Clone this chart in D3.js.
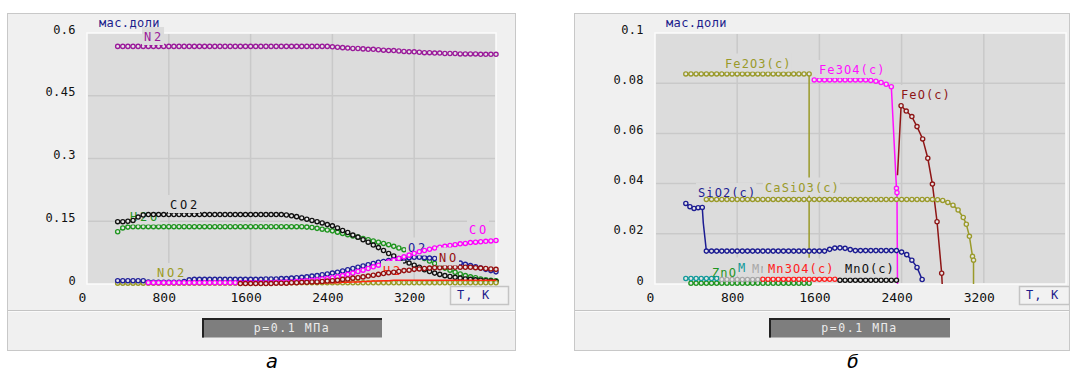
<!DOCTYPE html>
<html>
<head>
<meta charset="utf-8">
<script src="https://cdn.jsdelivr.net/npm/d3@7"></script>
<style>
  body { margin: 0; background: #fff; }
  svg text { font-family: "DejaVu Sans Mono", monospace; }
</style>
</head>
<body>
<svg id="fig" width="1070" height="376"></svg>
<script>
// ---- panel a: gas phase, mass fractions vs T ----
const T_A = [300,350,400,450,500,550,600,650,700,750, 800,850,900,950,1000,1050,1100,1150,1200,1250,
  1300,1350,1400,1450,1500,1550,1600,1650,1700,1750, 1800,1850,1900,1950,2000,2050,2100,2150,2200,2250,
  2300,2350,2400,2450,2500,2550,2600,2650,2700,2750, 2800,2850,2900,2950,3000,3050,3100,3150,3200,3250,
  3300,3350,3400,3450,3500,3550,3600,3650,3700,3750, 3800,3850,3900,3950,4000];

const N2 = [.568,.568,.568,.568,.568,.568,.568,.568,.568,.568, .568,.568,.568,.568,.568,.568,.568,.568,.568,.568,
  .568,.568,.568,.568,.568,.568,.568,.568,.568,.568, .568,.568,.568,.568,.568,.568,.568,.568,.568,.568,
  .568,.568,.567,.566,.565,.564,.563,.563,.562,.561, .561,.560,.559,.558,.558,.557,.556,.555,.555,.554,
  .553,.553,.552,.552,.551,.551,.551,.550,.550,.550, .550,.549,.549,.549,.549];
const CO2 = [.149,.149,.150,.152,.160,.165,.166,.166,.166,.166, .166,.166,.166,.166,.166,.166,.166,.166,.166,.166,
  .166,.166,.166,.166,.166,.166,.166,.166,.166,.166, .166,.166,.166,.165,.163,.161,.158,.155,.152,.149,
  .146,.142,.139,.134,.128,.123,.117,.112,.106,.100, .093,.087,.080,.073,.067,.061,.055,.050,.045,.040,
  .034,.030,.026,.023,.020,.018,.016,.014,.012,.011, .010,.009,.008,.007,.006];
const H2O = [.125,.134,.136,.137,.137,.137,.137,.137,.137,.137, .137,.137,.137,.137,.137,.137,.137,.137,.137,.137,
  .137,.137,.137,.137,.137,.137,.137,.137,.137,.137, .137,.137,.137,.137,.137,.137,.137,.136,.135,.133,
  .131,.129,.127,.124,.121,.118,.115,.112,.109,.106, .103,.100,.097,.094,.090,.086,.082,.078,.073,.067,
  .061,.055,.049,.043,.038,.033,.028,.024,.020,.017, .015,.012,.010,.009,.008];
const CO = [null,null,null,null,null,null,.003,.003,.003,.003, .003,.003,.003,.003,.003,.003,.003,.003,.003,.003,
  .003,.003,.003,.003,.003,.003,.003,.003,.003,.003, .003,.004,.004,.005,.005,.006,.007,.008,.009,.010,
  .012,.013,.015,.017,.020,.023,.026,.030,.033,.037, .041,.045,.049,.053,.057,.061,.065,.069,.073,.077,
  .080,.083,.086,.088,.090,.092,.094,.096,.097,.099, .100,.101,.102,.103,.104];
const O2 = [.008,.008,.008,.008,.008,.008,.005,.004,.004,.004, .004,.004,.004,.006,.010,.011,.011,.011,.011,.011,
  .011,.011,.011,.011,.011,.011,.011,.011,.011,.012, .012,.012,.013,.013,.014,.015,.016,.017,.019,.020,
  .022,.024,.026,.028,.031,.034,.037,.040,.043,.046, .049,.052,.054,.056,.058,.060,.062,.063,.064,.064,
  .063,.062,.061,.059,.057,.055,.052,.050,.047,.044, .041,.038,.035,.032,.029];
const NO = [null,null,null,null,null,null,null,null,null,null, null,null,null,null,null,null,null,null,null,null,
  null,null,null,null,.001,.001,.001,.001,.001,.001, .001,.002,.002,.002,.003,.003,.004,.004,.005,.005,
  .006,.007,.008,.009,.011,.012,.014,.015,.017,.019, .021,.023,.025,.027,.028,.030,.032,.033,.035,.036,
  .037,.038,.039,.039,.040,.040,.040,.040,.040,.040, .039,.038,.037,.036,.035];
const H2 = [null,null,null,null,null,null,null,null,null,null, null,null,null,null,null,null,null,null,null,null,
  null,null,null,null,null,null,null,null,null,null, null,null,null,null,.001,.001,.001,.002,.002,.002,
  .002,.003,.003,.003,.004,.004,.005,.005,.006,.006, .007,.007,.008,.008,.009,.009,.009,.009,.009,.009,
  .009,.009,.009,.009,.009,.009,.009,.009,.009,.009, .009,.009,.009,.009,.009];
const NO2 = [.002,.002,.002,.002,.002,.002,.002,.002,.002,.002, .002,.002,.002,.002,.002,.002,.002,.002,.002,.002,
  .002,.002,.002,.002,.002,.002,.002,.002,.002,.002, .003,.003,.003,.003,.003,.003,.003,.003,.003,.003,
  .003,.003,.003,.003,.003,.003,.003,.003,.003,.003, .003,.003,.003,.003,.003,.003,.003,.003,.003,.003,
  .003,.003,.003,.003,.003,.003,.003,.003,.003,.003, .003,.003,.003,.003,.003];

// ---- panel b: condensed phases ----
const T_FE2O3 = [300,350,400,450,500,550,600,650,700,750,800,850,900,950,1000,1050,1100,1150,1200,1250,1300,1350,1400,1450,1500,1500];
const FE2O3 = [.0837,.0837,.0837,.0837,.0837,.0837,.0837,.0837,.0837,.0837,.0837,.0837,.0837,.0837,.0837,.0837,.0837,.0837,.0837,.0837,.0837,.0837,.0837,.0837,.0837,.0105];
const T_FE3O4 = [1550,1600,1650,1700,1750,1800,1850,1900,1950,2000,2050,2100,2150,2200,2250,2300,2350,2355,2360];
const FE3O4 = [.0813,.0813,.0813,.0813,.0813,.0813,.0813,.0813,.0813,.0813,.0813,.0811,.0808,.0803,.0796,.0786,.0381,.0364,0];
const T_FEO = [2360,2395,2445,2500,2550,2605,2655,2700,2745,2790,2795];
const FEO = [.0433,.0710,.0689,.0667,.0627,.0578,.0501,.0398,.0248,.0043,0];
const T_SIO2 = [300,340,380,420,460,470,500,550,600,650,700,750,800,850,900,950,1000,1050,1100,1150,1200,1250,1300,1350,
  1400,1450,1500,1550,1600,1650,1700,1750,1800,1850,1900,1950,2000,2050,2100,2150,2200,2250,2300,2350,2400,2450,2500,2550,2600];
const SIO2 = [.0321,.0308,.0301,.0304,.0305,.0243,.0131,.0131,.0131,.0131,.0131,.0131,.0131,.0131,.0131,.0131,.0131,.0131,.0131,.0131,
  .0131,.0131,.0131,.0131,.0131,.0131,.0131,.0131,.0131,.0131,.0138,.0143,.0144,.0142,.0137,.0133,.0133,.0133,.0133,.0133,
  .0133,.0133,.0133,.0133,.0127,.0117,.0095,.0066,.0018];
const T_CASIO3 = [500,550,600,650,700,750,800,850,900,950,1000,1050,1100,1150,1200,1250,1300,1350,1400,1450,1500,1550,1600,1650,
  1700,1750,1800,1850,1900,1950,2000,2050,2100,2150,2200,2250,2300,2350,2400,2450,2500,2550,2600,2650,2700,
  2750,2800,2850,2900,2950,3000,3030,3060,3090,3100,3100];
const CASIO3 = [.0337,.0337,.0337,.0337,.0337,.0337,.0337,.0337,.0337,.0337,.0337,.0337,.0337,.0337,.0337,.0337,.0337,.0337,.0337,.0337,
  .0337,.0337,.0337,.0337,.0337,.0337,.0337,.0337,.0337,.0337,.0337,.0337,.0337,.0337,.0337,.0337,.0337,.0337,.0337,.0337,
  .0337,.0337,.0337,.0337,.0337,.0336,.0333,.0325,.0314,.0295,.0265,.0238,.0190,.0110,.0095,0];
const T_ZNO = [350,400,450,500,550,600,650,700,750,800,850,900,950,1000,1050,1100,1150,1200,1250,1300,1350,1400,1450,1500];
const ZNO = [.0003,.0003,.0003,.0003,.0003,.0003,.0003,.0003,.0003,.0003,.0003,.0003,.0003,.0003,.0003,.0003,.0003,.0003,.0003,.0003,.0003,.0003,.0003,.0003];
const T_MNO2 = [300,350,400,450,500,550,600];
const MNO2 = [.0022,.0022,.0022,.0022,.0022,.0022,.0022];
const T_MN2O3 = [650,700,750,800,850,900,950,1000];
const MN2O3 = [.0018,.0018,.0018,.0018,.0018,.0018,.0018,.0018];
const T_MN3O4 = [1050,1100,1150,1200,1250,1300,1350,1400,1450,1500,1550,1600,1650,1700,1750];
const MN3O4 = [.0019,.0019,.0019,.0019,.0019,.0019,.0019,.0019,.0019,.0019,.0019,.0019,.0019,.0019,.0019];
const T_MNO = [1800,1850,1900,1950,2000,2050,2100,2150,2200,2250,2300,2350];
const MNO = [.0015,.0015,.0015,.0015,.0015,.0015,.0015,.0015,.0015,.0015,.0015,.0015];

const X_TICKS = [0, 800, 1600, 2400, 3200];
const Y_TICKS_A = [0, 0.15, 0.3, 0.45, 0.6];
const Y_TICKS_B = [0, 0.02, 0.04, 0.06, 0.08, 0.1];

const PLOT_BG = '#dcdcdc';
const svg = d3.select('#fig');

// labels of the Mn/Zn cluster are partly hidden by the next label, as in the source
const panels = [
  {
    fx: 7, fw: 508, left: 87, right: 496, yMax: 0.6, yTicks: Y_TICKS_A, tickRight: 76, ls: 2.8, lw: 1,
    box: [202, 180], tk: [450, 58], cap: 'а', capX: 272,
    series: [
      { t: T_A, v: N2, c: '#9a1a9a', label: 'N2', lx: 144, ly: 41 },
      { t: T_A, v: H2O, c: '#1f951f', label: 'H2O', lx: 130, ly: 220.5 },
      { t: T_A, v: CO2, c: '#111111', label: 'CO2', lx: 170, ly: 209 },
      { t: T_A, v: NO2, c: '#9a9a22', label: 'NO2', lx: 157, ly: 277 },
      { t: T_A, v: O2, c: '#20209a', label: 'O2', lx: 408, ly: 251.5 },
      { t: T_A, v: CO, c: '#ff00ff', label: 'CO', lx: 469, ly: 234 },
      { t: T_A, v: H2, c: '#ff2a10', label: 'H2', lx: 383, ly: 275, marks: false, w: 1.5 },
      { t: T_A, v: NO, c: '#961010', label: 'NO', lx: 439, ly: 261.5 }
    ]
  },
  {
    fx: 574, fw: 495, left: 655, right: 1066, yMax: 0.1, yTicks: Y_TICKS_B, tickRight: 644, ls: 1.1, lw: 1.5,
    box: [769, 181], tk: [1019, 50], cap: 'б', capX: 853,
    series: [
      { t: T_FE2O3, v: FE2O3, c: '#9a9a2a', label: 'Fe2O3(c)', lx: 725, ly: 67.5, skip: [25] },
      { t: T_FE3O4, v: FE3O4, c: '#ff10ff', label: 'Fe3O4(c)', lx: 819, ly: 74, skip: [18] },
      { t: T_FEO, v: FEO, c: '#8e1616', label: 'FeO(c)', lx: 901, ly: 99, skip: [0, 10] },
      { t: T_SIO2, v: SIO2, c: '#1c1c92', label: 'SiO2(c)', lx: 698, ly: 197, skip: [5] },
      { t: T_CASIO3, v: CASIO3, c: '#9a9a2a', label: 'CaSiO3(c)', lx: 765, ly: 191.5, skip: [55] },
      { t: T_ZNO, v: ZNO, c: '#1f951f', label: 'ZnO', lx: 712, ly: 277 },
      { t: T_MNO2, v: MNO2, c: '#119a9a', label: 'M', lx: 738, ly: 271.5 },
      { t: T_MN2O3, v: MN2O3, c: '#a8a8a8', label: 'Mn', lx: 752, ly: 272.5 },
      { t: T_MN3O4, v: MN3O4, c: '#ff2020', label: 'Mn3O4(c)', lx: 768, ly: 272.5, pad: 5 },
      { t: T_MNO, v: MNO, c: '#111111', label: 'MnO(c)', lx: 845, ly: 273.3 }
    ]
  }
];

function drawPanel(p) {
  const top = 33, bottom = 284;
  const x = d3.scaleLinear().domain([0, 4000]).range([p.left, p.right]);
  const y = d3.scaleLinear().domain([0, p.yMax]).range([bottom, top]);
  const g = svg.append('g');

  // outer frame and bottom strip
  g.append('rect').attr('x', p.fx + 0.5).attr('y', 13.5).attr('width', p.fw).attr('height', 337)
    .attr('fill', '#f0f0f0').attr('stroke', '#c8c8c8');
  g.append('line').attr('x1', p.fx + 1).attr('x2', p.fx + p.fw).attr('y1', 310.5).attr('y2', 310.5)
    .attr('stroke', '#c4c4c4');
  g.append('line').attr('x1', p.fx + 1).attr('x2', p.fx + p.fw).attr('y1', 311.5).attr('y2', 311.5)
    .attr('stroke', '#fafafa');

  // plot area
  g.append('rect').attr('x', p.left).attr('y', top).attr('width', p.right - p.left).attr('height', bottom - top)
    .attr('fill', PLOT_BG).attr('stroke', '#fbfbfb').attr('stroke-width', 1.5);

  g.append('g').selectAll('line').data(p.yTicks.slice(1, -1)).join('line')
    .attr('x1', p.left + 1).attr('x2', p.right - 1).attr('y1', d => y(d)).attr('y2', d => y(d))
    .attr('stroke', '#c9c9c9').attr('stroke-width', 1.5);
  g.append('g').selectAll('line').data(X_TICKS.slice(1)).join('line')
    .attr('x1', d => x(d)).attr('x2', d => x(d)).attr('y1', top + 1).attr('y2', bottom - 1)
    .attr('stroke', '#c9c9c9').attr('stroke-width', 1.5);

  // tick labels
  g.append('g').selectAll('text').data(p.yTicks).join('text')
    .attr('x', p.tickRight).attr('y', d => y(d) + 0.5)
    .attr('text-anchor', 'end').attr('font-size', 12).attr('letter-spacing', 0.4).attr('fill', '#111')
    .text(d => String(d));
  g.append('g').selectAll('text').data(X_TICKS).join('text')
    .attr('x', d => x(d) - 4.5).attr('y', 301.5)
    .attr('text-anchor', 'middle').attr('font-size', 13).attr('fill', '#111')
    .text(d => String(d));

  g.append('text').attr('x', p.fx + 92).attr('y', 26.5).attr('font-size', 12).attr('letter-spacing', 0.4)
    .attr('fill', '#1c1c8c').text('мас.доли');

  // T, K box
  g.append('rect').attr('x', p.tk[0] + 0.5).attr('y', 286.5).attr('width', p.tk[1]).attr('height', 18)
    .attr('fill', '#f2f2f2').attr('stroke', '#c4c4c4').attr('stroke-width', 1.5);
  g.append('text').attr('x', p.tk[0] + 7).attr('y', 299).attr('font-size', 12).attr('letter-spacing', 1.1)
    .attr('fill', '#1c1c8c').text('T, K');

  // pressure box
  g.append('rect').attr('x', p.box[0]).attr('y', 318).attr('width', p.box[1]).attr('height', 19.5)
    .attr('fill', '#7e7e7e');
  g.append('path')
    .attr('d', `M${p.box[0] + 1},${337.5}V${319}H${p.box[0] + p.box[1]}`)
    .attr('fill', 'none').attr('stroke', '#222').attr('stroke-width', 2);
  g.append('text').attr('x', p.box[0] + p.box[1] / 2).attr('y', 332).attr('text-anchor', 'middle')
    .attr('font-size', 11.5).attr('letter-spacing', 1.6).attr('fill', '#ececec').text('p=0.1 МПа');

  // series: line, markers, then label with background (drawn in sequence)
  const line = d3.line().x(d => x(d.t)).y(d => y(d.v));
  p.series.forEach(s => {
    const pts = s.t.map((t, i) => ({ t, v: s.v[i], i })).filter(d => d.v != null);
    g.append('path').attr('d', line(pts)).attr('fill', 'none')
      .attr('stroke', s.c).attr('stroke-width', s.w || p.lw);
    if (s.marks !== false) {
      const skip = s.skip || [];
      g.append('g').selectAll('circle').data(pts.filter(d => !skip.includes(d.i))).join('circle')
        .attr('cx', d => x(d.t)).attr('cy', d => y(d.v)).attr('r', 2.1)
        .attr('fill', '#e6e6e6').attr('stroke', s.c).attr('stroke-width', 1.35);
    }
    const lg = g.append('g');
    const bg = lg.append('rect').attr('fill', PLOT_BG);
    const tx = lg.append('text').attr('x', s.lx).attr('y', s.ly).attr('font-size', 12)
      .attr('letter-spacing', p.ls).attr('fill', s.c).text(s.label);
    const bb = tx.node().getBBox();
    const pad = s.pad || 2;
    bg.attr('x', s.lx - pad).attr('y', s.ly - 14).attr('width', bb.width + pad).attr('height', 18);
  });

  svg.append('text').attr('x', p.capX).attr('y', 368).attr('text-anchor', 'middle')
    .attr('font-family', '"Liberation Serif", serif').attr('font-style', 'italic').attr('font-size', 20)
    .attr('fill', '#000').text(p.cap);
}

panels.forEach(drawPanel);
</script>
</body>
</html>
